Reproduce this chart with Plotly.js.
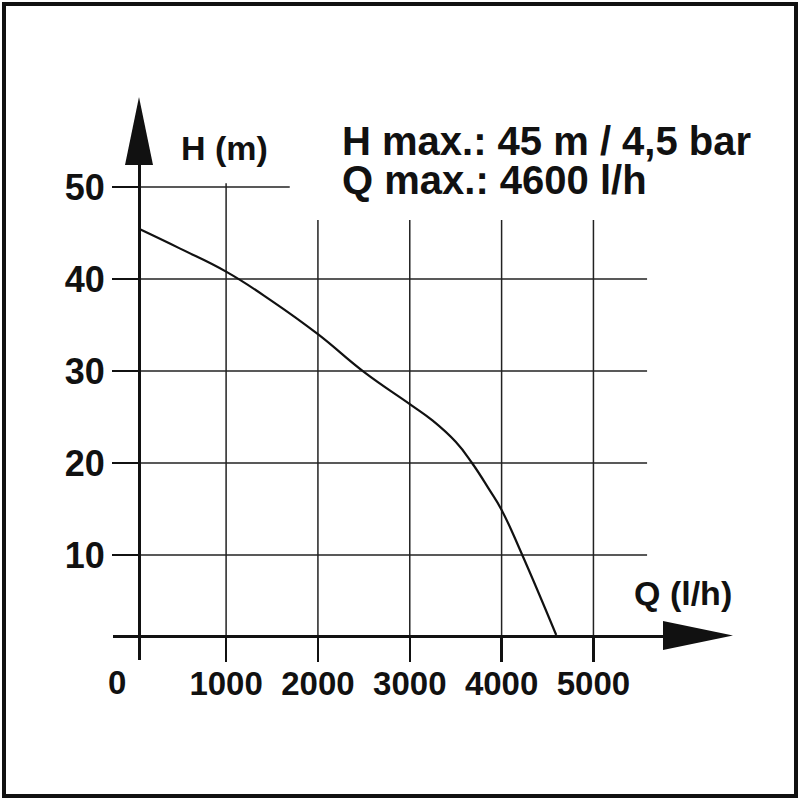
<!DOCTYPE html>
<html>
<head>
<meta charset="utf-8">
<script src="https://cdn.plot.ly/plotly-3.0.1.min.js"></script>
<style>
  html, body { margin: 0; padding: 0; background: #fff; }
  #pumpChart { width: 800px; height: 800px; }
</style>
</head>
<body>
<div id="pumpChart"></div>
<script>
// pump curve
var flowRate = [62, 500, 1000, 1500, 2000, 2500, 3000, 3250, 3500, 3678, 3866, 4000, 4225, 4595];
var headHeight = [45.4, 43.3, 40.8, 37.6, 34.0, 29.9, 26.4, 24.6, 22.3, 20.0, 17.1, 14.9, 10.0, 1.3];

var flowTicks = [1000, 2000, 3000, 4000, 5000];
var flowTickLabels = ['1000', '2000', '3000', '4000', '5000'];
var headTicks = [10, 20, 30, 40, 50];
var headTickLabels = ['10', '20', '30', '40', '50'];

var textInk = '#111';
var fontFamily = 'Liberation Sans, Arial, sans-serif';

// pixel -> paper helpers (margins are 0, so paper == page)
var px = function (x) { return x / 800; };
var py = function (y) { return 1 - y / 800; };

var curve = {
    x: flowRate,
    y: headHeight,
    type: 'scatter',
    mode: 'lines',
    line: {color: textInk, width: 2.2, shape: 'spline', smoothing: 1.3},
    hoverinfo: 'skip'
};

var shapes = [];
// outer frame
shapes.push({type: 'rect', xref: 'paper', yref: 'paper', x0: 0.005, y0: 0.005, x1: 0.995, y1: 0.995,
    line: {color: textInk, width: 4}});
// horizontal grid
headTicks.forEach(function (h) {
    shapes.push({type: 'line', xref: 'x', yref: 'y', layer: 'below',
        x0: 51, x1: h == 50 ? 1693 : 5584, y0: h, y1: h,
        line: {color: '#222', width: 1.5}});
});
// vertical grid
flowTicks.forEach(function (q) {
    shapes.push({type: 'line', xref: 'x', yref: 'y', layer: 'below',
        x0: q, x1: q, y0: 1.2, y1: q == 1000 ? 50.4 : 46.4,
        line: {color: '#222', width: 1.5}});
});
// arrow heads
shapes.push({type: 'path', xref: 'paper', yref: 'paper', line: {width: 0}, fillcolor: textInk,
    path: 'M ' + px(125) + ' ' + py(165) + ' L ' + px(139) + ' ' + py(97) + ' L ' + px(153) + ' ' + py(165) + ' Z'});
shapes.push({type: 'path', xref: 'paper', yref: 'paper', line: {width: 0}, fillcolor: textInk,
    path: 'M ' + px(663) + ' ' + py(621) + ' L ' + px(733) + ' ' + py(635.5) + ' L ' + px(663) + ' ' + py(650) + ' Z'});

var note = function (text, x, y, size, xanchor) {
    return {text: text, xref: 'paper', yref: 'paper', x: px(x), y: py(y),
        xanchor: xanchor || 'center', yanchor: 'middle', showarrow: false,
        font: {family: fontFamily, size: size, color: textInk, weight: 'bold'}};
};

var annotations = [
    note('H max.: 45 m / 4,5 bar', 340, 141, 40, 'left'),
    note('Q max.: 4600 l/h', 340, 180, 40, 'left'),
    note('H (m)', 224, 148, 34),
    note('Q (l/h)', 683, 593, 34),
    note('0', 117, 682, 33)
];

var layout = {
    width: 800,
    height: 800,
    margin: {l: 0, r: 0, t: 0, b: 0},
    paper_bgcolor: '#fff',
    plot_bgcolor: 'rgba(0,0,0,0)',
    showlegend: false,
    xaxis: {
        domain: [0.14125, 0.8375],
        range: [-231.5, 5833.7],
        anchor: 'free',
        position: 0.205,
        showline: true, linewidth: 3, linecolor: textInk,
        ticks: 'outside', ticklen: 24, tickwidth: 2.5, tickcolor: textInk,
        ticklabelstandoff: -7,
        tickvals: flowTicks, ticktext: flowTickLabels,
        tickfont: {family: fontFamily, size: 33, color: textInk, weight: 'bold'},
        showgrid: false, zeroline: false, fixedrange: true
    },
    yaxis: {
        domain: [0.175, 0.79375],
        range: [-1.413, 52.39],
        anchor: 'free',
        position: 0.17375,
        showline: true, linewidth: 3, linecolor: textInk,
        ticks: 'outside', ticklen: 26, tickwidth: 2.5, tickcolor: textInk,
        tickvals: headTicks, ticktext: headTickLabels,
        tickfont: {family: fontFamily, size: 36, color: textInk, weight: 'bold'},
        showgrid: false, zeroline: false, fixedrange: true
    },
    shapes: shapes,
    annotations: annotations
};

Plotly.newPlot('pumpChart', [curve], layout, {staticPlot: true, displayModeBar: false});
</script>
</body>
</html>
